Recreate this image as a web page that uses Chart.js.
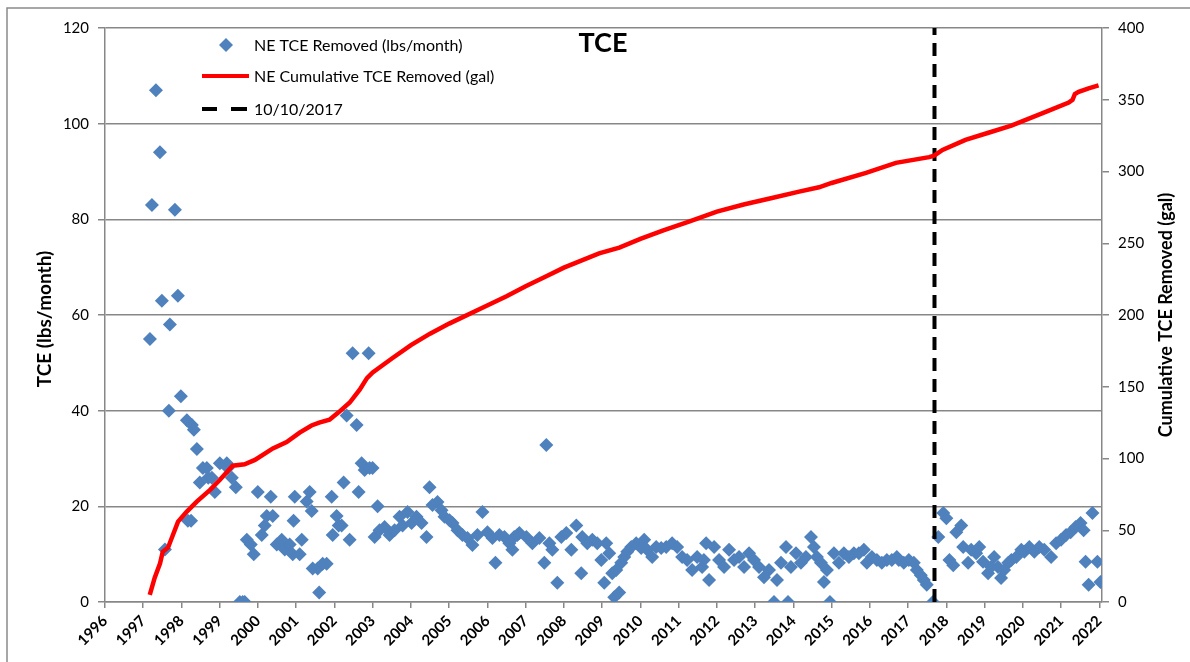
<!DOCTYPE html>
<html><head><meta charset="utf-8">
<script src="https://cdn.jsdelivr.net/npm/chart.js@4.4.1/dist/chart.umd.min.js"></script>
<style>html,body{margin:0;padding:0;background:#fff;}#wrap{width:1190px;height:662px;}</style>
</head><body><div id="wrap"><canvas id="c" width="1190" height="662"></canvas></div>
<script>
const yearTicks = [1996,1997,1998,1999,2000,2001,2002,2003,2004,2005,2006,2007,2008,2009,2010,2011,2012,2013,2014,2015,2016,2017,2018,2019,2020,2021,2022];
const leftTicks = [0,20,40,60,80,100,120];
const rightTicks = [0,50,100,150,200,250,300,350,400];
const chartTitle = 'TCE';
const leftAxisTitle = 'TCE (lbs/month)';
const rightAxisTitle = 'Cumulative TCE Removed (gal)';
const seriesNames = ['NE TCE Removed (lbs/month)','NE Cumulative TCE Removed (gal)','10/10/2017'];
const markerDate = 2017.69;

const tceYears = [1997.175,1997.227,1997.332,1997.436,1997.488,1997.567,1997.671,1997.697,1997.828,1997.906,1997.984,
1998.141,1998.167,1998.25,1998.272,1998.324,1998.402,1998.48,1998.559,1998.663,1998.70,1998.794,1998.872,
1999.003,1999.185,1999.211,1999.316,1999.42,1999.525,1999.6,1999.655,1999.708,1999.812,1999.89,1999.995,
2000.099,2000.178,2000.23,2000.334,2000.386,2000.491,2000.621,2000.70,2000.83,2000.909,2000.93,2000.961,
2001.091,2001.144,2001.274,2001.352,2001.405,2001.431,2001.561,2001.6,2001.692,2001.796,2001.927,2001.953,
2002.057,2002.11,2002.188,2002.24,2002.319,2002.397,2002.475,2002.58,2002.632,2002.71,2002.789,2002.893,2002.919,2002.997,
2003.05,2003.128,2003.18,2003.311,2003.441,2003.572,2003.702,2003.781,2003.911,
2004.016,2004.146,2004.277,2004.407,2004.486,2004.564,2004.695,2004.799,2004.877,
2005.008,2005.086,2005.217,2005.347,2005.478,2005.608,2005.739,2005.869,
2006.0,2006.131,2006.209,2006.313,2006.444,2006.574,2006.653,2006.70,2006.783,2006.836,
2007.018,2007.175,2007.358,2007.488,2007.54,2007.619,2007.697,2007.828,2007.932,
2008.063,2008.193,2008.324,2008.454,2008.48,2008.611,2008.742,2008.872,2008.977,
2009.055,2009.107,2009.185,2009.264,2009.316,2009.368,2009.446,2009.499,2009.577,2009.656,2009.76,2009.89,
2010.021,2010.099,2010.178,2010.308,2010.413,2010.543,2010.674,2010.83,2010.961,
2011.091,2011.222,2011.352,2011.483,2011.614,2011.66,2011.718,2011.796,2011.927,
2012.057,2012.188,2012.319,2012.449,2012.58,2012.71,2012.841,2012.971,
2013.102,2013.232,2013.363,2013.493,2013.572,2013.676,2013.807,2013.859,2013.937,
2014.068,2014.198,2014.329,2014.46,2014.538,2014.616,2014.721,2014.799,2014.877,2014.956,
2015.06,2015.191,2015.321,2015.452,2015.582,2015.713,2015.843,2015.922,
2016.052,2016.183,2016.313,2016.444,2016.574,2016.705,2016.757,2016.888,
2017.018,2017.149,2017.227,2017.332,2017.41,2017.488,2017.65,2017.79,2017.92,
2018.0,2018.08,2018.18,2018.26,2018.39,2018.44,2018.57,2018.65,2018.78,2018.86,2018.96,
2019.09,2019.17,2019.25,2019.35,2019.43,2019.51,2019.62,2019.70,2019.83,2019.96,
2020.04,2020.17,2020.30,2020.43,2020.56,2020.74,2020.87,
2021.0,2021.13,2021.25,2021.38,2021.51,2021.59,2021.64,2021.72,2021.82,2021.95,2022.03];
const tceValues = [55,83,107,94,63,11,40,58,82,64,43,
38,17,17,37,36,32,25,28,28,26,26,23,
29,29,28,26,24,0,0,0,13,12,10,23,
14,16,18,22,18,12,13,11,12,10,17,22,
10,13,21,23,19,7,7,2,8,8,22,14,
18,16,16,25,39,13,52,37,23,29,27.6,52,28,28,
13.6,20,15,15.7,14,15,17.8,16,18.8,
16.5,17.8,16.5,13.6,24,20.3,20.9,19.2,17.8,
17.1,16.5,15,14,13.4,11.9,14,18.8,
14.6,13.4,8.2,14,13.6,12.3,10.9,13.6,14,14.4,
13.6,12.3,13.4,8.2,32.8,12.3,10.9,4,13.6,
14.4,10.9,16,6,13.6,12.3,13,12.3,8.8,
4,12.3,10.2,6,1,6.7,2,8.2,9.4,10.5,11.5,12.3,
11.3,13,10.9,9.4,11.5,11.3,11.5,12.3,11.5,
9.4,8.8,6.7,9.4,7.3,8.8,12.3,4.6,11.5,
8.8,7.3,10.9,8.8,9.4,7.3,10.2,8.8,
7.3,5.2,6.7,0,4.6,8.2,11.5,0,7.3,
10.2,8.2,9.4,13.6,11.5,9.4,8.2,4.2,6.7,0,
10.2,8.2,10.2,9.4,10.2,10.2,10.9,8.2,
9.4,8.8,8.2,8.8,8.8,9.4,8.8,8.2,
8.8,8.2,6.7,5.6,4.6,3.6,0,13.6,18.6,
17.5,8.8,7.7,14.6,16,11.5,8.2,10.9,10.2,11.5,8.4,
6,7.3,9.4,7.3,5,6.7,8.2,8.8,9.4,10.9,
10.5,11.5,10.5,11.5,10.9,9.4,12.3,
13,14,14.6,15.7,16.5,15,8.4,3.6,18.6,8.4,4.2];

const cumYears = [1997.17,1997.3,1997.44,1997.51,1997.65,1997.91,1998.14,1998.4,1998.74,1999.0,1999.34,1999.65,1999.92,
2000.39,2000.75,2001.09,2001.4,2001.6,2001.87,2002.1,2002.4,2002.66,2002.85,2003.0,2003.52,2004.0,2004.5,2005.0,
2005.87,2006.5,2007.0,2007.54,2008.0,2008.92,2009.45,2010.0,2010.6,2011.27,2012.0,2012.7,2013.44,2014.15,2014.67,
2015.0,2015.9,2016.68,2017.55,2017.68,2017.9,2018.5,2019.1,2019.7,2020.6,2021.2,2021.3,2021.36,2021.46,2021.72,2021.98];
const cumValues = [5,17,27,35,38,56,63,70,78,85,95,96,99,
107,111.5,118,123,125,127,132,139,148,156,160,170,179,187,194,
205,213,220,227,233,243,247,253,259,265,272,277,281.5,286,289,
292,299,306,310,311,315,322,327,332,341.5,348,350,354,355.5,358,360];

const FONT = 'Lato, "Open Sans", "DejaVu Sans", sans-serif';
const GRID = '#878787';
const BLUE = '#4F81BD';

const decor = {
  id: 'decor',
  afterDraw(chart) {
    const ctx = chart.ctx, a = chart.chartArea;
    ctx.save();
    // outer frame (left and top edges visible)
    ctx.strokeStyle = '#8a8a8a'; ctx.lineWidth = 1.5;
    ctx.strokeRect(7, 8, 1300, 800);
    // title
    ctx.fillStyle = '#000';
    ctx.font = 'bold 27px ' + FONT;
    ctx.textAlign = 'center'; ctx.textBaseline = 'middle';
    ctx.fillText(chartTitle, 603, 43);
    // axis titles
    ctx.save(); ctx.font = 'bold 19px ' + FONT; ctx.translate(45, 319); ctx.rotate(-Math.PI/2); ctx.fillText(leftAxisTitle, 0, 0); ctx.restore();
    ctx.save(); ctx.font = 'bold 18px ' + FONT; ctx.translate(1166, 315); ctx.rotate(-Math.PI/2); ctx.fillText(rightAxisTitle, 0, 0); ctx.restore();
    // legend
    ctx.font = '16px ' + FONT;
    ctx.textAlign = 'left';
    const lx = 254, rows = [45, 76, 109];
    ctx.fillStyle = BLUE;
    ctx.beginPath(); ctx.moveTo(226-7, rows[0]); ctx.lineTo(226, rows[0]-7); ctx.lineTo(226+7, rows[0]); ctx.lineTo(226, rows[0]+7); ctx.closePath(); ctx.fill();
    ctx.strokeStyle = '#FF0000'; ctx.lineWidth = 4;
    ctx.beginPath(); ctx.moveTo(202, rows[1]); ctx.lineTo(249, rows[1]); ctx.stroke();
    ctx.strokeStyle = '#000';
    ctx.beginPath(); ctx.moveTo(202, rows[2]); ctx.lineTo(217, rows[2]); ctx.moveTo(231, rows[2]); ctx.lineTo(247, rows[2]); ctx.stroke();
    ctx.fillStyle = '#000';
    seriesNames.forEach((n, i) => ctx.fillText(n, lx, rows[i] + 1));
    ctx.restore();
  }
};

new Chart(document.getElementById('c'), {
  type: 'scatter',
  data: {
    datasets: [
      { label: seriesNames[1], type: 'line', yAxisID: 'y2', order: 0,
        data: cumYears.map((x, i) => ({x, y: cumValues[i]})),
        borderColor: '#FF0000', borderWidth: 4.5, pointRadius: 0, tension: 0, fill: false },
      { label: seriesNames[2], type: 'line', yAxisID: 'y', order: 1,
        data: [{x: markerDate, y: leftTicks[0]}, {x: markerDate, y: leftTicks[leftTicks.length-1]}],
        borderColor: '#000', borderWidth: 4, borderDash: [13, 8], pointRadius: 0, fill: false },
      { label: seriesNames[0], yAxisID: 'y', order: 2,
        data: tceYears.map((x, i) => ({x, y: tceValues[i]})),
        pointStyle: 'rectRot', pointRadius: 7, backgroundColor: BLUE, borderColor: BLUE, borderWidth: 0 }
    ]
  },
  options: {
    responsive: false, animation: false,
    layout: { padding: { top: 28, left: 0, right: 0, bottom: 0 } },
    plugins: { legend: { display: false }, tooltip: { enabled: false } },
    scales: {
      x: { type: 'linear', position: 'bottom', min: 1996, max: 2022.07,
        afterBuildTicks: s => { s.ticks = yearTicks.map(v => ({value: v})); },
        afterFit: s => { s.height = 60; },
        ticks: { autoSkip: false, minRotation: 45, maxRotation: 45, color: '#000', padding: 4,
          font: { family: FONT, size: 15, weight: 'bold' }, callback: v => String(v) },
        grid: { drawOnChartArea: false, drawTicks: true, tickLength: 6, color: GRID, lineWidth: 1.5 },
        border: { display: true, color: GRID, width: 1.5 } },
      y: { position: 'left', min: 0, max: 120,
        afterBuildTicks: s => { s.ticks = leftTicks.map(v => ({value: v})); },
        afterFit: s => { s.width = 105; },
        ticks: { color: '#000', padding: 9, font: { family: FONT, size: 15 } },
        grid: { color: GRID, lineWidth: 1.5, tickLength: 7 },
        border: { display: true, color: GRID, width: 1.5 } },
      y2: { position: 'right', min: 0, max: 400,
        afterBuildTicks: s => { s.ticks = rightTicks.map(v => ({value: v})); },
        afterFit: s => { s.width = 88; },
        ticks: { color: '#000', padding: 9, font: { family: FONT, size: 15 } },
        grid: { drawOnChartArea: false, color: GRID, lineWidth: 1.5, tickLength: 7 },
        border: { display: true, color: GRID, width: 1.5 } }
    }
  },
  plugins: [decor]
});
</script></body></html>
